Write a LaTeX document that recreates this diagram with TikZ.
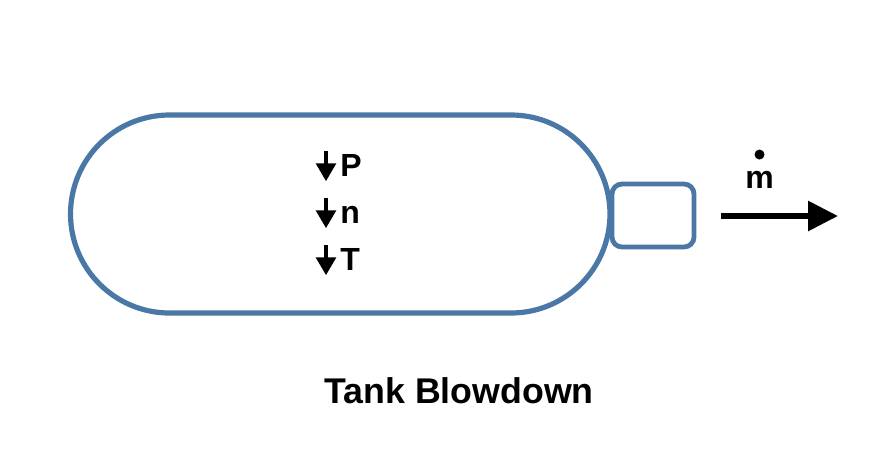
\documentclass[tikz,border=0pt]{standalone}
\usepackage{fontspec}
\setmainfont{Liberation Sans}
\usetikzlibrary{arrows.meta}
\definecolor{tankblue}{RGB}{74,120,166}
\begin{document}
\begin{tikzpicture}[x=0.75pt,y=-0.75pt,font=\bfseries,
    wall/.style={draw=tankblue,line width=3.9pt},
    qty/.style={anchor=base west,inner sep=0pt,font=\bfseries\fontsize{24}{28}\selectfont},
    dn/.style={line width=3.5pt,-{Triangle[length=13.5pt,width=14.5pt]}},
    flow/.style={line width=4.5pt,-{Triangle[length=22.5pt,width=21.75pt]}}]
  \useasboundingbox (0,0) rectangle (892,472);
  % vessel and outlet
  \node[wall,rectangle,rounded corners=74.25pt,minimum width=404.6pt,minimum height=148.5pt] (tank) at (340.25,214) {};
  \node[wall,rectangle,rounded corners=7.5pt,line width=3.6pt,
        minimum width=61.5pt,minimum height=47.25pt] (nozzle) at (653,215.5) {};
  % falling quantities
  \foreach \q/\y in {P/176,n/223,T/270} {
    \node[qty] (\q) at (340,\y) {\q};
    \draw[dn] ([xshift=-10.5pt,yshift=18.5pt]\q.base west) -- ([xshift=-10.5pt,yshift=-4pt]\q.base west);
  }
  % mass flow out
  \coordinate (jet) at (721,216);
  \coordinate (jetend) at (838,216);
  \draw[flow] (jet) -- (jetend);
  \node[qty,anchor=base] (mflow) at (759.5,188) {m};
  \fill ([yshift=25.1pt]mflow.base) circle (3.75pt);
  \node[font=\bfseries\fontsize{26.8}{32}\selectfont,anchor=base] (title) at (459,403) {Tank Blowdown};
\end{tikzpicture}
\end{document}
